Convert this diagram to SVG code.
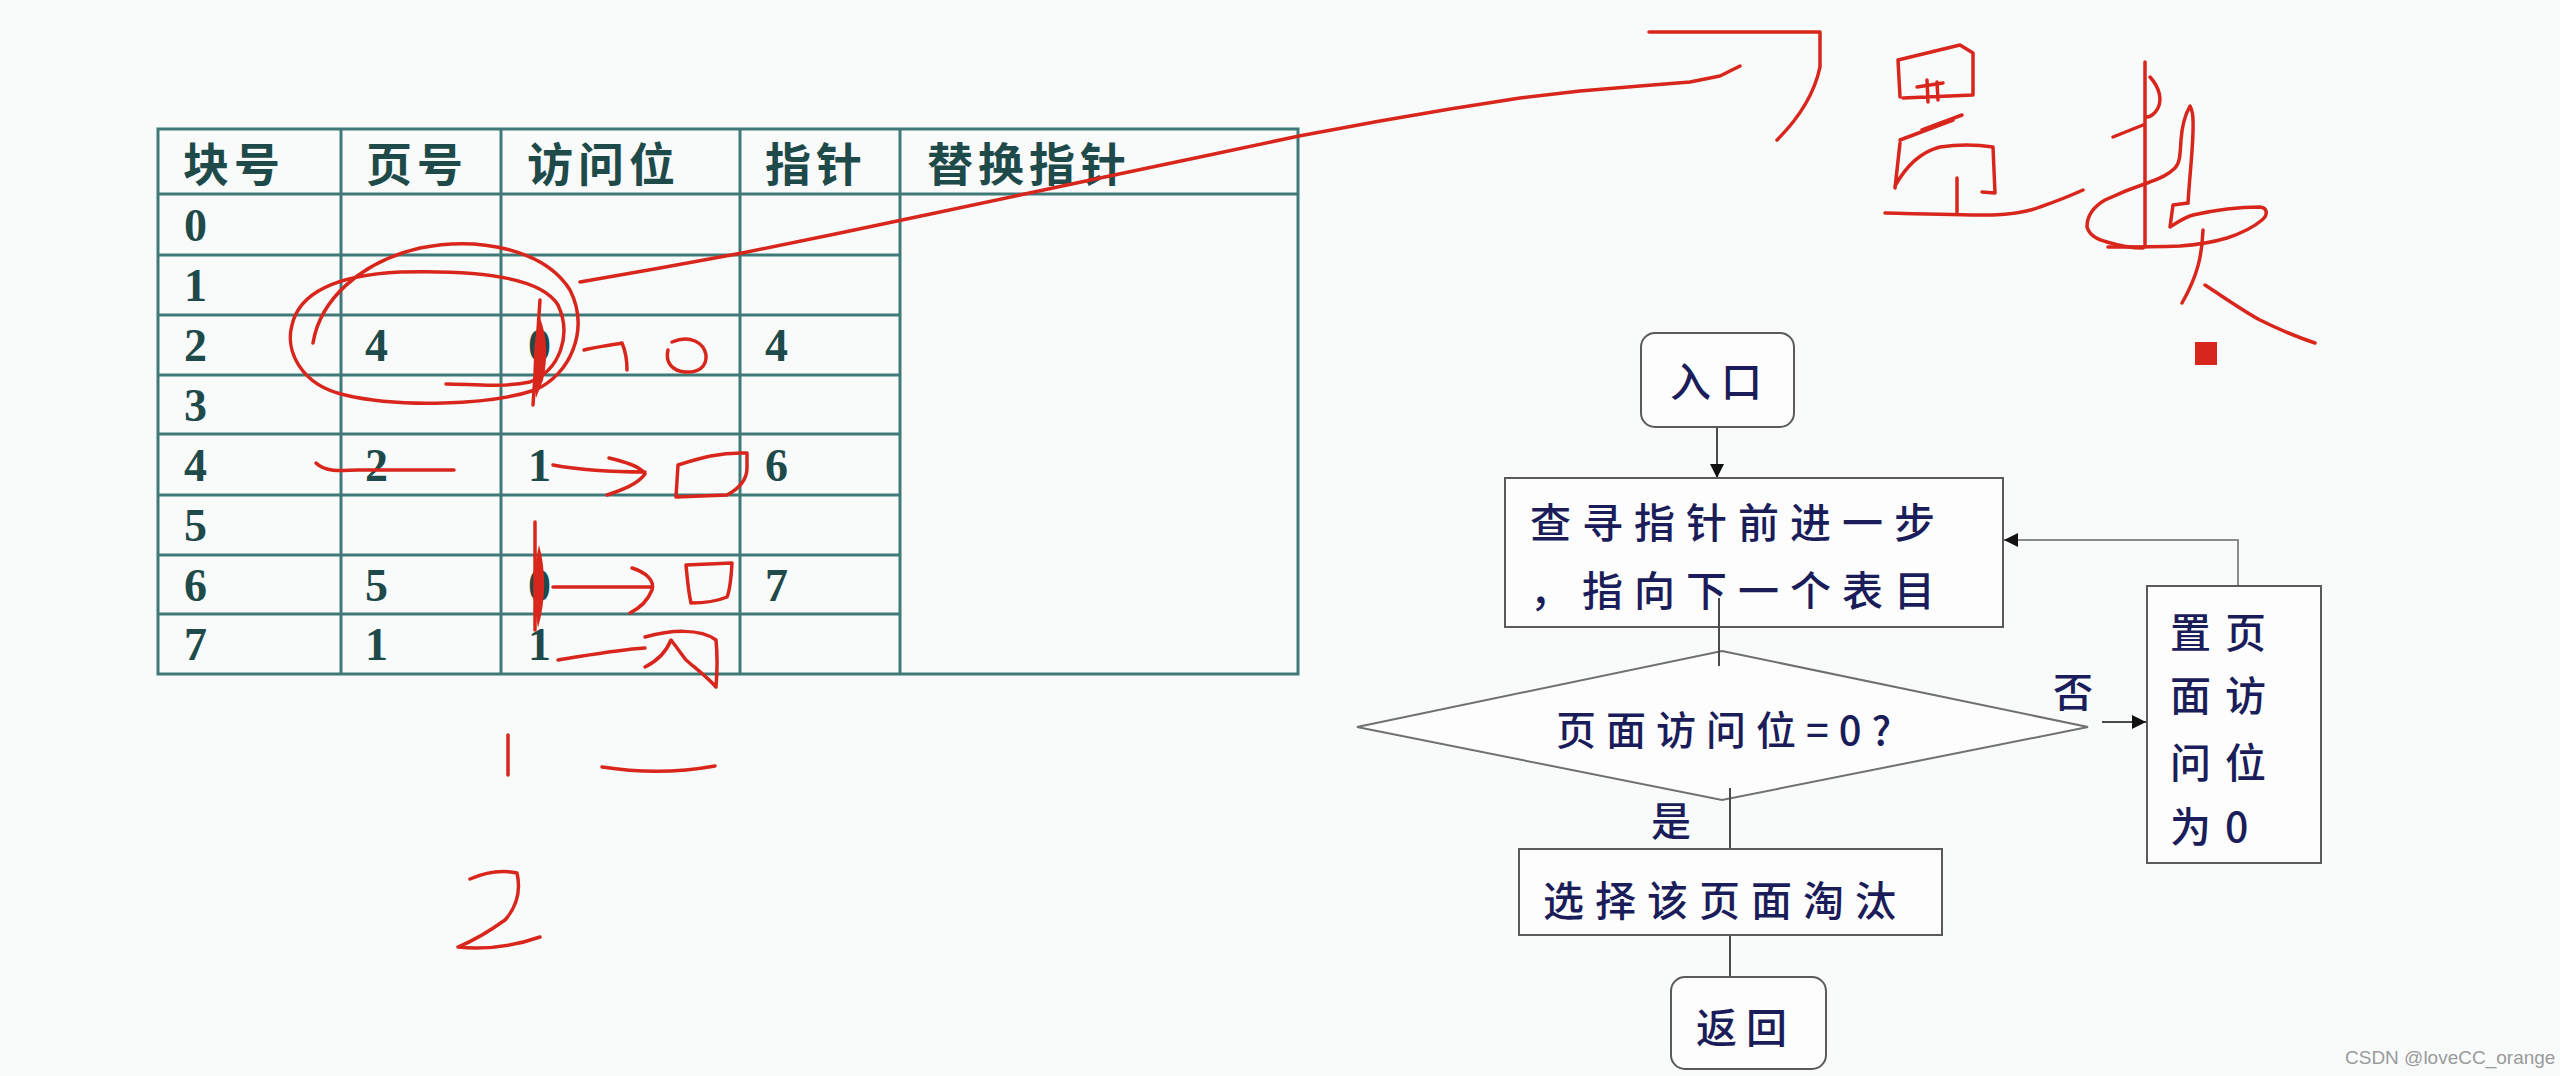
<svg xmlns="http://www.w3.org/2000/svg" width="2560" height="1076" viewBox="0 0 2560 1076">
<style>
.tl{stroke:#3f7a78;stroke-width:3;fill:none}
.tt{font-family:"Noto Sans CJK SC","Liberation Serif",serif;font-size:46px;fill:#1f4a4a;letter-spacing:5px;font-weight:700}
.td{font-family:"Liberation Serif","Noto Sans CJK SC",serif;font-size:46px;fill:#1f4a4a;font-weight:bold}
.fb{fill:#fdfdfd;stroke:#5a5a5a;stroke-width:2}
.ft{font-family:"Noto Sans CJK SC",sans-serif;font-size:41px;fill:#1b1d5a;letter-spacing:11px;font-weight:500}
.cn{stroke:#4a4a4a;stroke-width:2;fill:none}
.cg{stroke:#8a8a8a;stroke-width:2;fill:none}
.rd{stroke:#d8261c;stroke-width:3.5;fill:none;stroke-linecap:round;stroke-linejoin:round}
.rf{fill:#d8261c}
</style>
<defs>
<marker id="ah" viewBox="0 0 10 10" refX="10" refY="5" markerWidth="14" markerHeight="14" markerUnits="userSpaceOnUse" orient="auto">
<path d="M0,0 L10,5 L0,10 Z" fill="#111"/>
</marker>
</defs>
<rect width="2560" height="1076" fill="#f9fbfb"/>

<g id="table">
<rect x="158" y="129" width="1140" height="545" fill="#fdfdfd" class="tl"/>
<line class="tl" x1="158" y1="194" x2="1298" y2="194"/>
<line class="tl" x1="158" y1="255" x2="900" y2="255"/>
<line class="tl" x1="158" y1="315" x2="900" y2="315"/>
<line class="tl" x1="158" y1="375" x2="900" y2="375"/>
<line class="tl" x1="158" y1="434" x2="900" y2="434"/>
<line class="tl" x1="158" y1="495" x2="900" y2="495"/>
<line class="tl" x1="158" y1="555" x2="900" y2="555"/>
<line class="tl" x1="158" y1="614" x2="900" y2="614"/>
<line class="tl" x1="341" y1="129" x2="341" y2="674"/>
<line class="tl" x1="501" y1="129" x2="501" y2="674"/>
<line class="tl" x1="740" y1="129" x2="740" y2="674"/>
<line class="tl" x1="900" y1="129" x2="900" y2="674"/>
<text class="tt" x="183" y="181">块号</text>
<text class="tt" x="366" y="181">页号</text>
<text class="tt" x="527" y="181">访问位</text>
<text class="tt" x="765" y="181">指针</text>
<text class="tt" x="927" y="181">替换指针</text>
<g class="td">
<text x="184" y="241">0</text>
<text x="184" y="301">1</text>
<text x="184" y="361">2</text><text x="365" y="361">4</text><text x="528" y="361">0</text><text x="765" y="361">4</text>
<text x="184" y="421">3</text>
<text x="184" y="481">4</text><text x="365" y="481">2</text><text x="528" y="481">1</text><text x="765" y="481">6</text>
<text x="184" y="541">5</text>
<text x="184" y="601">6</text><text x="365" y="601">5</text><text x="528" y="601">0</text><text x="765" y="601">7</text>
<text x="184" y="660">7</text><text x="365" y="660">1</text><text x="528" y="660">1</text>
</g>
</g>

<g id="connectors">
<line class="cn" x1="1717" y1="426" x2="1717" y2="478" marker-end="url(#ah)"/>
<line class="cn" x1="2102" y1="722" x2="2146" y2="722" marker-end="url(#ah)"/>
<polyline class="cg" points="2238,586 2238,540 2004,540" marker-end="url(#ah)"/>
</g>

<g id="n-entry">
<rect class="fb" x="1641" y="333" width="153" height="94" rx="14"/>
<text class="ft" x="1670" y="397" style="letter-spacing:10px">入口</text>
</g>
<g id="n-step">
<rect class="fb" x="1505" y="478" width="498" height="149"/>
<text class="ft" x="1530" y="538">查寻指针前进一步</text>
<text class="ft" x="1530" y="606">，指向下一个表目</text>
</g>
<g id="n-decision">
<polygon points="1722,651 2088,727 1722,800 1357,727" fill="#fdfdfd" stroke="#707070" stroke-width="2"/>
<text class="ft" x="1556" y="745" style="font-size:40px;letter-spacing:10px">页面访问位=0?</text>
</g>
<g id="connectors-2">
<line class="cn" x1="1719" y1="598" x2="1719" y2="666"/>
<line class="cn" x1="1730" y1="788" x2="1730" y2="850"/>
<line class="cn" x1="1730" y1="915" x2="1730" y2="978"/>
</g>
<text class="ft" x="1651" y="836" style="font-size:40px">是</text>
<text class="ft" x="2053" y="707" style="font-size:40px">否</text>
<g id="n-reset">
<rect class="fb" x="2147" y="586" width="174" height="277"/>
<text class="ft" x="2170" y="648" style="letter-spacing:14px">置页</text>
<text class="ft" x="2170" y="711" style="letter-spacing:14px">面访</text>
<text class="ft" x="2170" y="778" style="letter-spacing:14px">问位</text>
<text class="ft" x="2170" y="842" style="letter-spacing:14px">为0</text>
</g>
<g id="n-select">
<rect class="fb" x="1519" y="849" width="423" height="86"/>
<text class="ft" x="1543" y="916">选择该页面淘汰</text>
</g>
<g id="n-return">
<rect class="fb" x="1671" y="977" width="155" height="92" rx="14"/>
<text class="ft" x="1696" y="1043" style="letter-spacing:9px">返回</text>
</g>

<g id="annotations">
<path class="rd" d="M313,343 C320,300 360,262 420,248 C480,236 545,250 570,290 C590,330 570,375 535,390 C490,405 400,408 345,395 C300,385 285,350 292,325 C300,290 340,275 400,272 C470,270 540,275 558,305 C572,335 560,370 530,382 C500,388 470,384 446,384"/>
<path class="rd" d="M540,300 L533,405"/>
<path class="rf" d="M540,318 C547,335 548,360 543,380 L536,398 C532,370 533,340 540,318 Z"/>
<polyline class="rd" points="580,282 660,268 742,253 840,233 940,212 1020,195 1100,178 1200,157 1299,136 1380,121 1450,109 1520,98 1580,91 1640,86 1690,82 1720,76 1740,66"/>
<path class="rd" d="M1649,32 L1820,32 L1820,67 Q1812,105 1777,140"/>
<path class="rd" d="M584,350 C595,347 612,345 622,343 C626,352 627,360 627,370"/>
<path class="rd" d="M672,342 C690,334 704,343 706,355 C707,367 698,373 685,372 C672,371 665,362 668,350"/>
<path class="rd" d="M316,463 C325,472 340,471 360,470 L454,470"/>
<path class="rd" d="M553,465 C580,470 610,472 645,472 M609,458 C625,462 640,466 645,474 C638,484 622,490 607,495"/>
<path class="rd" d="M678,465 L676,497 L727,495 C740,488 747,480 747,468 L747,453 C720,452 700,458 678,465"/>
<path class="rd" d="M535,522 L535,630"/>
<path class="rf" d="M539,545 C546,570 546,600 538,628 C533,600 533,570 539,545 Z"/>
<path class="rd" d="M553,587 L650,587 M632,568 C645,572 655,580 652,590 C648,600 640,608 630,613"/>
<path class="rd" d="M686,565 L732,563 C731,580 730,590 727,597 C715,602 700,603 691,603 C688,590 687,575 686,565"/>
<path class="rd" d="M558,660 C590,655 615,650 645,648 M645,637 C670,630 700,628 716,640 C718,660 717,675 716,687 C705,675 695,668 686,660 C680,652 675,645 671,640 C665,655 655,662 645,667"/>
<path class="rd" d="M508,735 L508,775"/>
<path class="rd" d="M602,767 Q660,776 715,766"/>
<path class="rd" d="M470,879 Q495,868 517,873 Q523,900 505,920 Q480,938 458,947 Q500,951 540,937"/>
<path class="rd" d="M1900,97 L1898,60 L1960,45 L1973,53 L1973,95 L1903,98 M1927,80 L1928,102 M1937,82 L1938,100 M1917,87 L1943,83"/>
<path class="rd" d="M1922,130 L1962,115 M1900,140 L1953,120 M1900,143 L1895,188 M1895,186 C1905,168 1920,152 1940,147 C1960,144 1980,145 1993,147 L1995,193 L1982,192 M1957,178 L1957,212"/>
<path class="rd" d="M1885,213 C1930,214 1965,215 1993,215 C2015,214 2030,211 2040,207 C2060,200 2072,195 2083,190"/>
<path class="rd" d="M2145,62 C2145,120 2145,190 2145,247 M2150,77 C2160,88 2162,100 2158,108 C2155,114 2150,117 2147,117 M2113,137 L2143,125"/>
<path class="rd" d="M2188,203 C2190,170 2194,140 2193,120 C2193,112 2191,108 2190,106 C2185,115 2182,125 2181,140 C2180,155 2180,163 2175,168 C2168,175 2160,178 2150,182 C2135,187 2120,193 2105,200 C2093,207 2087,215 2087,227 C2090,237 2100,240 2107,242 C2120,246 2132,248 2143,248"/>
<path class="rd" d="M2188,203 L2173,205 L2170,227 C2178,222 2185,217 2193,215 C2215,210 2240,207 2260,207 C2268,208 2268,215 2262,220 C2255,226 2245,232 2227,238 C2210,243 2195,245 2180,246 C2155,247 2130,247 2108,247"/>
<path class="rd" d="M2203,230 C2202,255 2198,275 2182,303 M2205,285 C2225,298 2245,312 2260,320 C2280,330 2300,338 2315,343"/>
<rect class="rf" x="2195" y="342" width="22" height="23"/>
</g>

<text x="2345" y="1064" font-family="Liberation Sans, Arial, sans-serif" font-size="19" fill="#9a9a9a">CSDN @loveCC_orange</text>
</svg>
